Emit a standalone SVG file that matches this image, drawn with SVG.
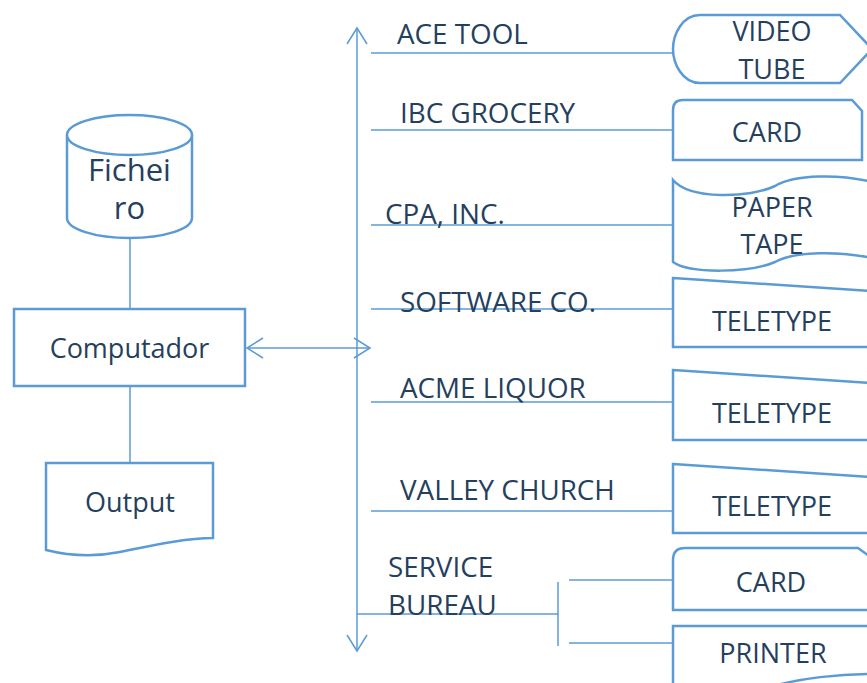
<svg xmlns="http://www.w3.org/2000/svg" width="867" height="683" viewBox="0 0 867 683">
<style>
.s{fill:#fff;stroke:#5b9bd5;stroke-width:2.5}
.c{fill:none;stroke:#5b9bd5;stroke-width:1.5}
text{font-family:"Open Sans","Liberation Sans",sans-serif;font-size:27px;fill:#253f5e}
.m{text-anchor:middle}
.l{font-size:27.8px}
.f{font-size:31px}
</style>
<defs>
<marker id="arr" viewBox="-18 -12 20 24" markerWidth="20" markerHeight="24" refX="0" refY="0" orient="auto-start-reverse" markerUnits="userSpaceOnUse">
<path d="M-16,-10 L0,0 L-16,10" fill="none" stroke="#5b9bd5" stroke-width="1.5"/>
</marker>
</defs>
<rect width="867" height="683" fill="#fff"/>
<g id="connectors">
<path class="c" d="M357,28 L357,651" marker-start="url(#arr)" marker-end="url(#arr)"/>
<path class="c" d="M247,348 L370,348" marker-start="url(#arr)" marker-end="url(#arr)"/>
<path class="c" d="M130,238 L130,309"/>
<path class="c" d="M130,386 L130,463"/>
<path class="c" d="M371,53 L673,53"/>
<path class="c" d="M371,130 L673,130"/>
<path class="c" d="M371,225 L673,225"/>
<path class="c" d="M371,309 L673,309"/>
<path class="c" d="M371,402 L673,402"/>
<path class="c" d="M371,511 L673,511"/>
<path class="c" d="M357,614 L558,614"/>
<path class="c" d="M558,582 L558,646"/>
<path class="c" d="M569,580 L673,580"/>
<path class="c" d="M569,643 L673,643"/>
</g>
<g id="fichero">
<path class="s" d="M67,135 L67,218 A62.5,20 0 0 0 192,218 L192,135 A62.5,20 0 0 0 67,135 Z"/>
<path class="s" d="M67,135 A62.5,20 0 0 0 192,135"/>
<text class="m f" x="129.5" y="181">Fichei</text>
<text class="m f" x="129.5" y="219">ro</text>
</g>
<g id="computador">
<rect class="s" x="14" y="309" width="231" height="77"/>
<text class="m" x="129.5" y="358">Computador</text>
</g>
<g id="output">
<path class="s" d="M46,463 L213,463 L213,538 C185,538 150,546 120,552 C95,557 70,556 46,550 Z"/>
<text class="m" x="130" y="512">Output</text>
</g>
<g id="labels">
<text class="l" x="397" y="44">ACE TOOL</text>
<text class="l" x="400" y="123">IBC GROCERY</text>
<text class="l" x="385" y="224">CPA, INC.</text>
<text class="l" x="400" y="312">SOFTWARE CO.</text>
<text class="l" x="400" y="398">ACME LIQUOR</text>
<text class="l" x="400" y="500">VALLEY CHURCH</text>
<text class="l" x="388" y="577">SERVICE</text>
<text class="l" x="388" y="615">BUREAU</text>
</g>
<g id="video-tube">
<path class="s" d="M700,15 C682,15 673,35 673,49 C673,63 682,83 700,83 L840,83 L872,49 L840,15 Z"/>
<text class="m" x="772" y="41">VIDEO</text>
<text class="m" x="772" y="79">TUBE</text>
</g>
<g id="card1">
<path class="s" d="M683,100 Q673,100 673,110 L673,160 L862,160 L862,111 L852,100 Z"/>
<text class="m" x="767" y="142">CARD</text>
</g>
<g id="paper-tape">
<path class="s" d="M872,182 C840,174 795,174 775,186 C750,198 690,200 673,180 L673,262 C690,274 750,273 775,262 C795,251 840,251 872,258"/>
<text class="m" x="772" y="217">PAPER</text>
<text class="m" x="772" y="254">TAPE</text>
</g>
<g id="teletype1">
<path class="s" d="M673,278 L872,291 L872,347 L673,347 Z"/>
<text class="m" x="772" y="331">TELETYPE</text>
</g>
<g id="teletype2">
<path class="s" d="M673,370 L872,383 L872,440 L673,440 Z"/>
<text class="m" x="772" y="423">TELETYPE</text>
</g>
<g id="teletype3">
<path class="s" d="M673,464 L872,477 L872,533 L673,533 Z"/>
<text class="m" x="772" y="516">TELETYPE</text>
</g>
<g id="card2">
<path class="s" d="M685,548 Q673,548 673,560 L673,610 L872,610 L872,558 L858,548 Z"/>
<text class="m" x="771" y="592">CARD</text>
</g>
<g id="printer">
<path class="s" d="M673,700 L673,626 L872,626 L872,674 C840,674 800,678 770,687"/>
<text class="m" x="773" y="663">PRINTER</text>
</g>
</svg>
